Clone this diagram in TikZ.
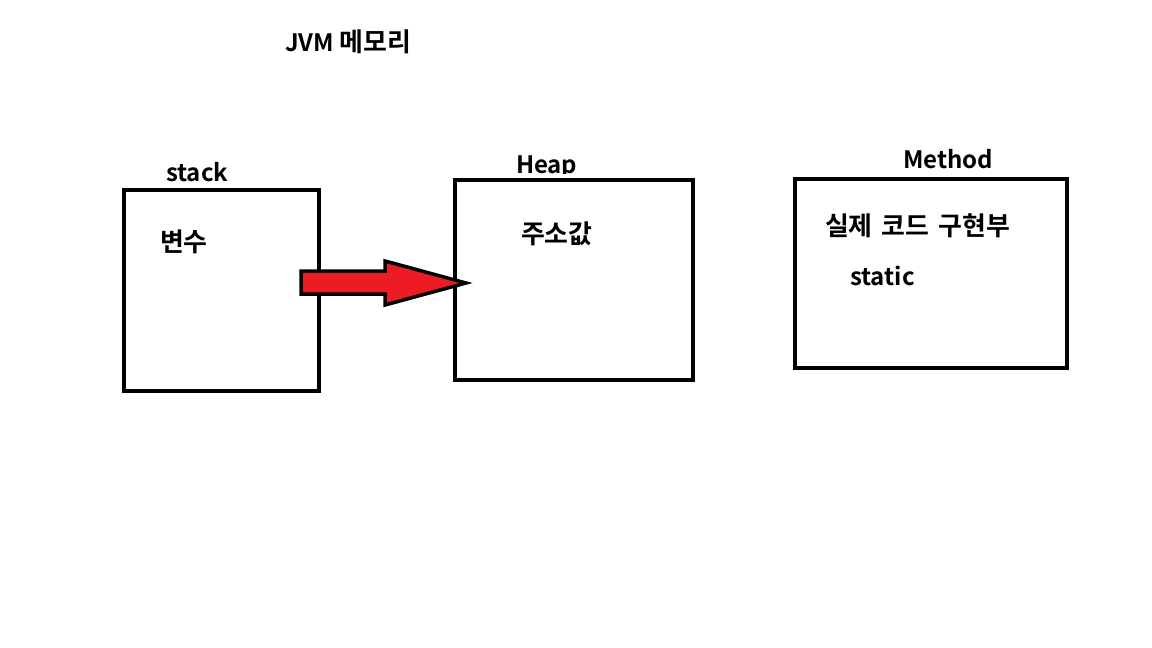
\documentclass[tikz,border=0pt]{standalone}
\usepackage{fontspec}
\setmainfont{Noto Sans CJK KR Bold}
\newfontfamily\krfont[Scale=1.08]{Noto Sans CJK KR Bold}
\definecolor{paintred}{RGB}{237,28,36}
\begin{document}
\begin{tikzpicture}[x=1pt,y=-1pt,
  box/.style={draw=black,line width=4pt,minimum width=#1,inner sep=0pt,outer sep=0pt},
  lbl/.style={inner sep=0pt,outer sep=0pt,anchor=base west,font=\fontsize{24}{28}\selectfont},
  bigarrow/.style={draw=black,fill=paintred,line width=3.5pt,line join=miter}]
\useasboundingbox[fill=white] (0,0) rectangle (1152,648);
% boxes
\node[box=195pt,minimum height=201pt] (stack) at (221.5,290.5) {};
\node[box=238pt,minimum height=200pt] (heap) at (574,280) {};
\node[box=272pt,minimum height=189pt] (method) at (931,273.5) {};
% labels
\node[lbl] (title) at (285,51) {JVM {\krfont 메모리}};
\node[lbl] (stacklbl) at (166,181) {stack};
\begin{scope}
\clip (400,140) rectangle (700,173.5);
\node[lbl] (heaplbl) at (516,173) {Heap};
\end{scope}
\node[lbl] (methodlbl) at (903,168) {Method};
\node[lbl] (var) at (160,251) {\krfont 변수};
\node[lbl] (addr) at (521,243) {\krfont 주소값};
\node[lbl] (impl) at (825,235) {\krfont 실제\hspace{9pt}코드\hspace{9pt}구현부};
\node[lbl] (static) at (850,285) {static};
% arrow from stack to heap
\coordinate (astart) at (301,282.5);
\coordinate (atip) at (466,283);
\draw[bigarrow] (astart) ++(0,-11.5) -- ++(84,0) -- ++(0,-10) -- (atip)
  -- ++(-81,22) -- ++(0,-11) -- ++(-84,0) -- cycle;
\end{tikzpicture}
\end{document}
